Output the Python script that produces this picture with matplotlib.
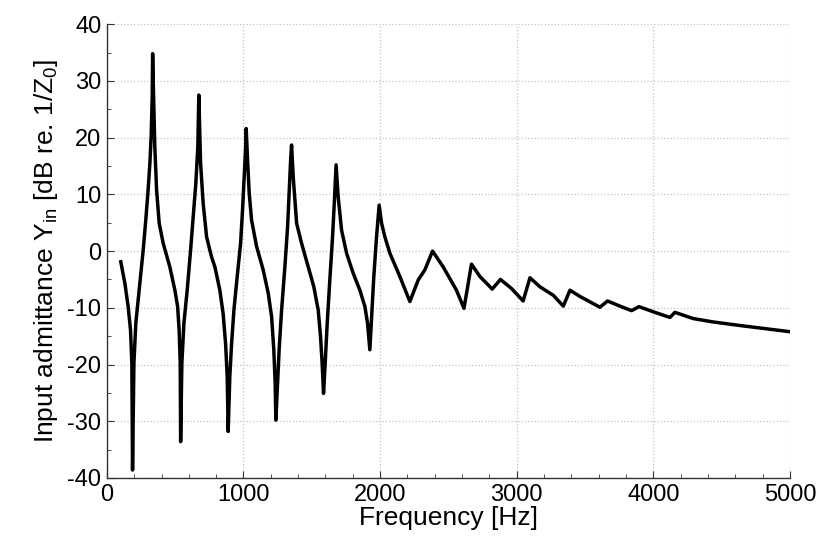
import matplotlib.pyplot as plt
import numpy as np

# Input admittance
freq_hz = [
    102, 132, 156, 173, 183, 188, 198, 212, 236, 266, 285, 302, 315, 324, 332, 335,
    342, 351, 364, 383, 412, 461, 498, 518, 529, 537, 540,
    549, 564, 588, 613, 632, 651, 666, 673,
    686, 705, 730, 766, 791, 827, 851, 869, 881, 888,
    900, 913, 930, 954, 979, 993, 1005, 1015, 1020,
    1030, 1042, 1059, 1096, 1144, 1181, 1206, 1222, 1232, 1237,
    1250, 1261, 1279, 1303, 1323, 1334, 1345, 1352,
    1364, 1389, 1425, 1474, 1515, 1547, 1564, 1576, 1586,
    1598, 1613, 1632, 1652, 1667, 1678,
    1693, 1718, 1755, 1803, 1852, 1889, 1908, 1925,
    1938, 1954, 1974, 1993,
    2011, 2035, 2072, 2145, 2218,
    2279, 2328, 2384,
    2462, 2559, 2614,
    2669, 2731, 2821, 2881, 2962, 3047,
    3097, 3170, 3268, 3341,
    3390, 3463, 3609, 3665, 3755, 3841, 3895, 3999, 4122,
    4158, 4292, 4439, 4659, 4995,
]
admittance_db = [
    -1.9, -5.7, -9.8, -13.9, -19.8, -38.6, -19.8, -12.7, -6.9, 0.2, 5.5, 10.8, 15.5, 20.1, 27.2, 34.8,
    27.2, 18.4, 10.8, 4.9, 1.4, -2.8, -6.9, -9.8, -13.9, -19.8, -33.6,
    -19.8, -12.7, -6.9, 0.2, 6.0, 11.9, 18.4, 27.5,
    15.5, 8.4, 2.5, -1.0, -2.8, -6.9, -11.0, -16.3, -22.1, -31.8,
    -22.1, -16.3, -10.4, -4.5, 1.4, 7.2, 13.1, 17.8, 21.6,
    16.0, 10.2, 5.5, 0.8, -3.3, -7.4, -11.6, -17.4, -23.3, -29.8,
    -23.3, -17.4, -10.4, -2.8, 4.3, 10.2, 16.0, 18.7,
    13.1, 4.9, 1.4, -2.8, -6.3, -10.4, -15.1, -19.8, -25.1,
    -19.8, -12.7, -5.1, 2.5, 9.6, 15.2,
    9.6, 3.7, -0.4, -3.9, -6.9, -9.8, -12.7, -17.4,
    -11.6, -4.5, 2.5, 8.1,
    4.9, 2.5, -0.4, -4.5, -8.9,
    -5.1, -3.3, 0.0,
    -2.8, -6.9, -10.1,
    -2.3, -4.5, -6.7, -5.0, -6.6, -8.8,
    -4.7, -6.3, -7.8, -9.7,
    -6.9, -8.0, -9.9, -8.8, -9.7, -10.5, -9.8, -10.7, -11.7,
    -10.8, -11.9, -12.5, -13.2, -14.2,
]

x_major = np.arange(0, 5001, 1000)
x_minor = np.arange(0, 5001, 200)
y_major = np.arange(-40, 41, 10)
y_minor = np.arange(-40, 41, 5)


def main():
    plt.rcParams["font.family"] = ["Liberation Sans", "DejaVu Sans"]
    plt.rcParams["mathtext.default"] = "regular"
    plt.rcParams["axes.unicode_minus"] = False

    fig = plt.figure(figsize=(8.22, 5.5), dpi=100)
    ax = fig.add_axes([0.130, 0.131, 0.831, 0.825])

    ax.plot(freq_hz, admittance_db, color="black", linewidth=2.5,
            solid_joinstyle="round")

    ax.set_xlim(0, 5000)
    ax.set_ylim(-40, 40)
    ax.set_xticks(x_major)
    ax.set_xticks(x_minor, minor=True)
    ax.set_yticks(y_major)
    ax.set_yticks(y_minor, minor=True)

    ax.grid(True, which="major", color="#c4c4c4", linestyle=":", linewidth=0.9)
    ax.tick_params(which="both", direction="in", labelsize=17, color="#333333")
    ax.tick_params(which="major", length=5, pad=4)
    ax.tick_params(which="minor", length=3)

    for side in ("top", "right"):
        ax.spines[side].set_visible(False)
    for side in ("left", "bottom"):
        ax.spines[side].set_color("#333333")
        ax.spines[side].set_linewidth(1.0)

    ax.set_xlabel("Frequency [Hz]", fontsize=19, labelpad=0)
    ax.set_ylabel("Input admittance Y$_{in}$ [dB re. 1/Z$_0$]", fontsize=19,
                  labelpad=5)

    fig.savefig("out.png", dpi=100)


if __name__ == "__main__":
    main()
